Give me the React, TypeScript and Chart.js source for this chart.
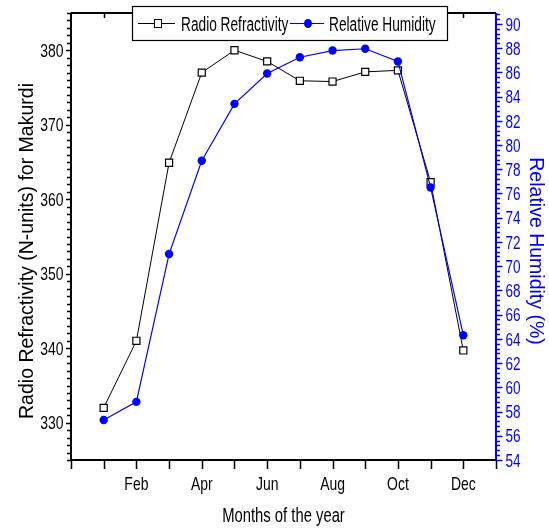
import React, { useEffect, useRef } from 'react';
import { Chart, registerables } from 'chart.js';

Chart.register(...registerables);

const months = [1, 2, 3, 4, 5, 6, 7, 8, 9, 10, 11, 12];
const monthLabels = ['Jan', 'Feb', 'Mar', 'Apr', 'May', 'Jun', 'Jul', 'Aug', 'Sep', 'Oct', 'Nov', 'Dec'];
const refractivity = [332.0, 341.0, 364.9, 377.0, 380.0, 378.5, 375.9, 375.8, 377.1, 377.3, 362.3, 339.7];
const humidity = [57.3, 58.8, 71.0, 78.7, 83.4, 85.9, 87.25, 87.8, 87.95, 86.9, 76.5, 64.3];
const leftTicks = [330, 340, 350, 360, 370, 380];
const rightTicks = [54, 56, 58, 60, 62, 64, 66, 68, 70, 72, 74, 76, 78, 80, 82, 84, 86, 88, 90];
const xLabelMonths = [2, 4, 6, 8, 10, 12];

const seriesNames = ['Radio Refractivity', 'Relative Humidity'];
const leftTitle = 'Radio Refractivity (N-units) for Makurdi';
const rightTitle = 'Relative Humidity (%)';
const bottomTitle = 'Months of the year';

const SANS = "'Liberation Sans', Arial, sans-serif";
const BLUE = '#0000ff';

function narrowText(ctx: any, text: string, x: number, y: number, align: string, sx: number) {
  ctx.save();
  ctx.translate(x, y);
  ctx.scale(sx, 1);
  ctx.textAlign = align;
  ctx.textBaseline = 'alphabetic';
  ctx.fillText(text, 0, 0);
  ctx.restore();
}

const framePlugin = {
  id: 'framePlugin',
  afterDraw(chart: any) {
    const ctx = chart.ctx;
    const { left, right, top, bottom } = chart.chartArea;
    const xs = chart.scales.x;
    const yl = chart.scales.y;
    const yr = chart.scales.y1;
    ctx.save();
    // frame lines
    ctx.lineWidth = 2;
    ctx.strokeStyle = '#000';
    ctx.beginPath();
    ctx.moveTo(left, top);
    ctx.lineTo(right, top);
    ctx.moveTo(left, top);
    ctx.lineTo(left, bottom);
    ctx.moveTo(left - 1, bottom);
    ctx.lineTo(right, bottom);
    ctx.stroke();
    // bottom & top ticks
    ctx.lineWidth = 1.5;
    ctx.beginPath();
    for (let m = 0; m <= 13; m++) {
      const px = Math.round(xs.getPixelForValue(m)) + 0.5;
      ctx.moveTo(px, bottom);
      ctx.lineTo(px, bottom + 9);
      if (m > 0 && m < 13) {
        ctx.moveTo(px, top);
        ctx.lineTo(px, top + 5);
      }
    }
    ctx.stroke();
    // left ticks
    ctx.beginPath();
    for (let v = 325; v <= 385; v++) {
      const py = Math.round(yl.getPixelForValue(v)) + 0.5;
      const len = v % 10 === 0 ? 5 : 4;
      ctx.moveTo(left, py);
      ctx.lineTo(left - len, py);
    }
    ctx.stroke();
    // right axis
    ctx.strokeStyle = BLUE;
    ctx.lineWidth = 2;
    ctx.beginPath();
    ctx.moveTo(right, top);
    ctx.lineTo(right, bottom);
    ctx.stroke();
    ctx.lineWidth = 1.5;
    ctx.beginPath();
    for (let k = 0; k <= 92; k++) {
      const v = 54 + k * 0.4;
      if (v > 90.9) break;
      const py = Math.round(yr.getPixelForValue(v)) + 0.5;
      const len = k % 5 === 0 ? 6.5 : 4;
      ctx.moveTo(right, py);
      ctx.lineTo(right + len, py);
    }
    ctx.stroke();

    // tick labels
    ctx.font = `18.6px ${SANS}`;
    ctx.fillStyle = '#000';
    for (const v of leftTicks) {
      narrowText(ctx, String(v), 63.5, yl.getPixelForValue(v) + 6.7, 'right', 0.75);
    }
    for (const m of xLabelMonths) {
      narrowText(ctx, monthLabels[m - 1], xs.getPixelForValue(m), 490, 'center', 0.75);
    }
    ctx.fillStyle = BLUE;
    for (const v of rightTicks) {
      narrowText(ctx, String(v), 505.5, yr.getPixelForValue(v) + 6.7, 'left', 0.73);
    }

    // legend
    ctx.fillStyle = '#fff';
    ctx.fillRect(132, 6, 316, 35);
    ctx.strokeStyle = '#000';
    ctx.lineWidth = 1.2;
    ctx.strokeRect(132.5, 6.5, 315, 34);
    const ly = 23.5;
    ctx.lineWidth = 1;
    ctx.beginPath();
    ctx.moveTo(138, ly);
    ctx.lineTo(175, ly);
    ctx.stroke();
    ctx.fillStyle = '#fff';
    ctx.fillRect(154.5, ly - 4, 7, 8);
    ctx.strokeRect(154.5, ly - 4, 7, 8);
    ctx.strokeStyle = BLUE;
    ctx.beginPath();
    ctx.moveTo(290, ly);
    ctx.lineTo(324, ly);
    ctx.stroke();
    ctx.fillStyle = BLUE;
    ctx.beginPath();
    ctx.ellipse(308, ly, 4, 4.5, 0, 0, Math.PI * 2);
    ctx.fill();
    ctx.fillStyle = '#000';
    ctx.font = `20px ${SANS}`;
    narrowText(ctx, seriesNames[0], 181, 30.5, 'left', 0.685);
    narrowText(ctx, seriesNames[1], 329, 30.5, 'left', 0.685);

    // titles
    ctx.font = `19.5px ${SANS}`;
    ctx.textAlign = 'center';
    ctx.textBaseline = 'alphabetic';
    ctx.save();
    ctx.translate(33, 251);
    ctx.rotate(-Math.PI / 2);
    ctx.fillStyle = '#000';
    ctx.fillText(leftTitle, 0, 0);
    ctx.restore();
    ctx.save();
    ctx.translate(530, 251);
    ctx.rotate(Math.PI / 2);
    ctx.fillStyle = BLUE;
    ctx.fillText(rightTitle, 0, 0);
    ctx.restore();
    ctx.font = `20px ${SANS}`;
    ctx.fillStyle = '#000';
    narrowText(ctx, bottomTitle, (left + right) / 2, 522, 'center', 0.74);
    ctx.restore();
  },
};

export default function App() {
  const ref = useRef<HTMLCanvasElement | null>(null);
  useEffect(() => {
    document.body.style.margin = '0';
    const canvas = ref.current;
    if (!canvas) return;
    const chart = new Chart(canvas, {
      type: 'line',
      data: {
        datasets: [
          {
            label: seriesNames[0],
            data: months.map((m, i) => ({ x: m, y: refractivity[i] })),
            yAxisID: 'y',
            borderColor: '#000',
            borderWidth: 1,
            pointStyle: 'rect',
            pointRadius: 5,
            pointBackgroundColor: '#fff',
            pointBorderColor: '#000',
            pointBorderWidth: 1.2,
            tension: 0,
            order: 2,
          },
          {
            label: seriesNames[1],
            data: months.map((m, i) => ({ x: m, y: humidity[i] })),
            yAxisID: 'y1',
            borderColor: BLUE,
            borderWidth: 1.2,
            pointStyle: 'circle',
            pointRadius: 4.2,
            pointBackgroundColor: BLUE,
            pointBorderColor: BLUE,
            pointBorderWidth: 0,
            tension: 0,
            order: 1,
          },
        ],
      },
      options: {
        animation: false,
        responsive: false,
        devicePixelRatio: 1,
        layout: { padding: { top: 13, left: 0, right: 0, bottom: 0 } },
        plugins: { legend: { display: false }, tooltip: { enabled: false }, title: { display: false } },
        scales: {
          x: {
            type: 'linear',
            position: 'bottom',
            min: 0,
            max: 13,
            grid: { display: false, drawTicks: false },
            border: { display: false },
            afterBuildTicks: (axis: any) => {
              axis.ticks = xLabelMonths.map((v) => ({ value: v }));
            },
            afterFit: (s: any) => {
              s.height = 68;
            },
            ticks: { display: false },
          },
          y: {
            type: 'linear',
            position: 'left',
            min: 325,
            max: 385,
            grid: { display: false, drawTicks: false },
            border: { display: false },
            afterBuildTicks: (axis: any) => {
              axis.ticks = leftTicks.map((v) => ({ value: v }));
            },
            afterFit: (s: any) => {
              s.width = 71;
            },
            ticks: { display: false },
          },
          y1: {
            type: 'linear',
            position: 'right',
            min: 54,
            max: 90.9,
            grid: { display: false, drawTicks: false },
            border: { display: false },
            afterBuildTicks: (axis: any) => {
              axis.ticks = rightTicks.map((v) => ({ value: v }));
            },
            afterFit: (s: any) => {
              s.width = 53;
            },
            ticks: { display: false },
          },
        },
      },
      plugins: [framePlugin],
    });
    return () => chart.destroy();
  }, []);
  return (
    <div style={{ width: 549, height: 528 }}>
      <canvas ref={ref} width={549} height={528} />
    </div>
  );
}
